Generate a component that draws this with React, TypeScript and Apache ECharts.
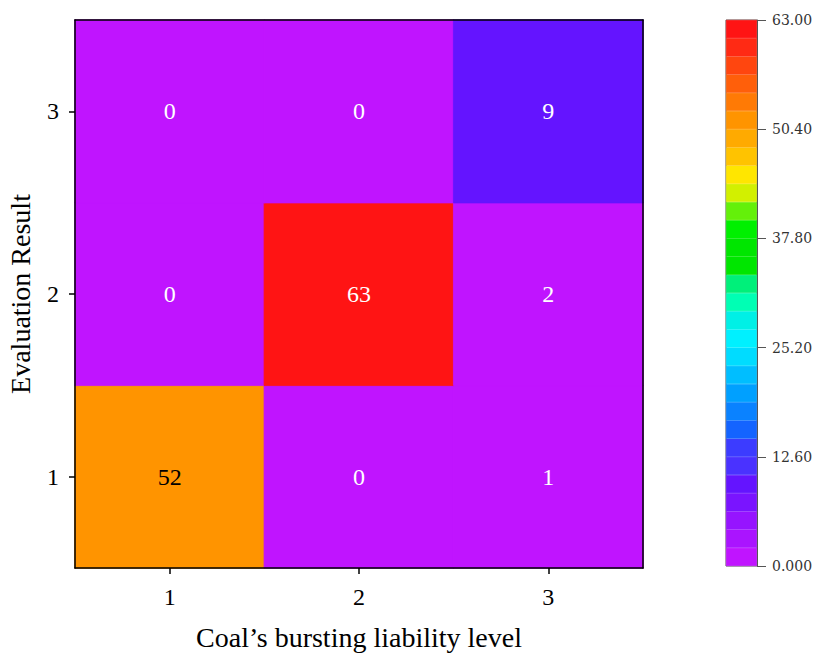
import React, { useEffect, useRef } from "react";
import * as echarts from "echarts";

const xCategories = ["1", "2", "3"];
const yCategories = ["1", "2", "3"];
// values per evaluation-result row (y = 1, 2, 3), columns = bursting liability level 1..3
const row1 = [52, 0, 1];
const row2 = [0, 63, 2];
const row3 = [0, 0, 9];
const rows = [row1, row2, row3];

const colorMax = 63;
const colorInterval = 12.6;
// 30 colour bands, bottom (0) to top (63)
const bandColors = [
  "#C014FF", "#AA14FF", "#9614FF", "#7A14FF", "#6414FF", "#4A32FF",
  "#3C3CFF", "#1464FF", "#0A82FF", "#00A0FF", "#00BEFF", "#00DCFF",
  "#00F0FF", "#00F0E6", "#00FFB4", "#00F07A", "#00E600", "#00E600",
  "#00F000", "#64F00A", "#D2F000", "#FFE600", "#FFC300", "#FFAA00",
  "#FF9400", "#FF7A05", "#FF5F0A", "#FF460F", "#FF2A14", "#FF1414",
];

const xTitle = "Coal\u2019s bursting liability level";
const yTitle = "Evaluation Result";

export default function App() {
  const ref = useRef<HTMLDivElement>(null);
  useEffect(() => {
    if (!ref.current) return;
    const chart = echarts.init(ref.current, null, { renderer: "svg" });
    const step = colorMax / bandColors.length;
    const pieces = bandColors.map((c, i) =>
      i === bandColors.length - 1
        ? { gte: i * step, lte: colorMax, color: c }
        : { gte: i * step, lt: (i + 1) * step, color: c }
    );
    const bandOf = (v: number) => bandColors[Math.min(bandColors.length - 1, Math.floor(v / step))];
    const data: any[] = [];
    rows.forEach((r, yi) =>
      r.forEach((v, xi) => {
        const dark = v >= 44.1 && v < 58.8;
        data.push({
          value: [xi, yi, v],
          label: { color: dark ? "#000" : "#fff" },
          itemStyle: { borderColor: bandOf(v), borderWidth: 0.8 },
        });
      })
    );
    const font = "Liberation Serif";
    const cbSeries = bandColors.map((c) => ({
      type: "bar",
      xAxisIndex: 1,
      yAxisIndex: 1,
      stack: "cb",
      barWidth: "100%",
      silent: true,
      data: [step],
      itemStyle: { color: c, borderColor: c, borderWidth: 0.6 },
    }));
    const frameAxis = {
      show: true,
      z: 10,
      axisLine: { show: true, lineStyle: { color: "#000", width: 1.5 } },
      axisTick: { show: false },
      axisLabel: { show: false },
      splitLine: { show: false },
    };
    chart.setOption({
      animation: false,
      textStyle: { fontFamily: font },
      grid: [
        { left: 75, top: 20, width: 568, height: 548, containLabel: false, outerBoundsMode: "none" },
        { left: 726, top: 20, width: 31, height: 546, show: true, borderColor: "#555", borderWidth: 1, backgroundColor: "transparent", containLabel: false, outerBoundsMode: "none" },
      ],
      xAxis: [
        {
          type: "category",
          gridIndex: 0,
          z: 10,
          data: xCategories,
          name: xTitle,
          nameLocation: "middle",
          nameGap: 55,
          nameTextStyle: { fontSize: 28, color: "#000", fontFamily: font },
          axisLine: { show: true, lineStyle: { color: "#000", width: 1.5 } },
          axisTick: { show: true, alignWithLabel: true, length: 6, lineStyle: { color: "#000", width: 1.5 } },
          axisLabel: { fontSize: 24, color: "#000", margin: 17, fontFamily: font },
          splitLine: { show: false },
        },
        { type: "category", gridIndex: 1, data: ["c"], show: false },
        { type: "category", gridIndex: 0, data: xCategories, position: "top", ...frameAxis },
      ],
      yAxis: [
        {
          type: "category",
          gridIndex: 0,
          z: 10,
          data: yCategories,
          name: yTitle,
          nameLocation: "middle",
          nameGap: 41,
          nameTextStyle: { fontSize: 28, color: "#000", fontFamily: font },
          axisLine: { show: true, lineStyle: { color: "#000", width: 1.5 } },
          axisTick: { show: true, alignWithLabel: true, length: 6, lineStyle: { color: "#000", width: 1.5 } },
          axisLabel: { fontSize: 24, color: "#000", margin: 16, fontFamily: font },
          splitLine: { show: false },
        },
        {
          type: "value",
          gridIndex: 1,
          position: "right",
          z: 10,
          min: 0,
          max: colorMax,
          interval: colorInterval,
          axisLine: { show: true, lineStyle: { color: "#555", width: 1 } },
          axisTick: { show: true, inside: false, length: 9, lineStyle: { color: "#555" } },
          axisLabel: {
            fontSize: 14,
            color: "#333",
            margin: 15,
            fontFamily: "DejaVu Serif",
            formatter: (v: number) => (v === 0 ? "0.000" : v.toFixed(2)),
          },
          splitLine: { show: false },
        },
        { type: "category", gridIndex: 0, data: yCategories, position: "right", ...frameAxis },
      ],
      visualMap: {
        type: "piecewise",
        show: false,
        seriesIndex: 0,
        dimension: 2,
        pieces,
      },
      series: [
        {
          type: "heatmap",
          xAxisIndex: 0,
          yAxisIndex: 0,
          data,
          label: { show: true, fontSize: 24, fontFamily: font },
        },
        ...cbSeries,
      ],
    });
    return () => chart.dispose();
  }, []);
  return <div ref={ref} style={{ position: "fixed", left: 0, top: 0, width: 813, height: 653, background: "#fff" }} />;
}
